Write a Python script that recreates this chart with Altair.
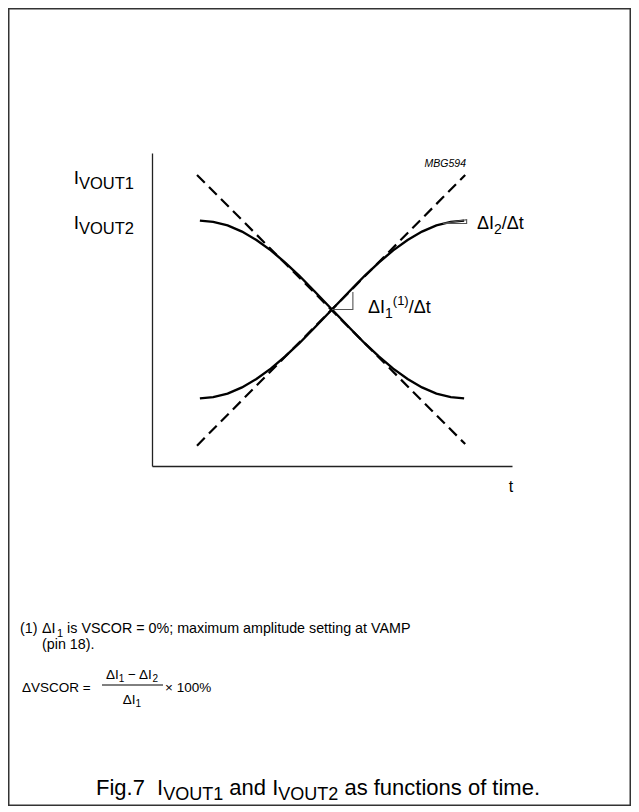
import altair as alt
import pandas as pd

# ---------------- data (arbitrary units 0..100) ----------------
t_curve = [13.3, 17, 21, 25, 29, 33, 37, 41, 45, 50, 55, 59, 63, 67, 71, 75, 79, 83, 86.7]
i_falling = [78.4, 78.0, 76.9, 74.9, 72.2, 68.9, 65.0, 60.7, 56.0, 50.0, 44.0, 39.3,
             35.0, 31.1, 27.8, 25.1, 23.1, 22.0, 21.6]
i_rising = [21.6, 22.0, 23.1, 25.1, 27.8, 31.1, 35.0, 39.3, 44.0, 50.0, 56.0, 60.7,
            65.0, 68.9, 72.2, 74.9, 76.9, 78.0, 78.4]
t_tangent = [12.5, 87.0]
tangent_falling = [93.0, 7.0]
tangent_rising = [6.5, 93.0]
tri_mid_t = [50.0, 55.8, 55.8]
tri_mid_i = [50.0, 50.0, 55.6]
tri_end_t = [80.8, 87.4, 87.4, 80.8]
tri_end_i = [77.5, 77.5, 78.7, 77.5]

# ---------------- layout ----------------
FONT = "Liberation Sans"
PW, PH = 360, 313            # plot area
PAD = {"left": 144, "top": 145, "right": 119, "bottom": 340}
OX, OY = 8 + PAD["left"], 8 + PAD["top"]   # page position of plot origin
CANVAS_W = PAD["left"] + PW + PAD["right"]
CANVAS_H = PAD["top"] + PH + PAD["bottom"]

AW = {' ': 278, '(': 333, ')': 333, '.': 278, '/': 278, '=': 584, '%': 889,
      ';': 278, '−': 584, '×': 584, 'Δ': 668, 'A': 667, 'B': 667, 'C': 722, 'F': 611,
      'G': 778, 'I': 278, 'M': 833, 'O': 778, 'P': 667, 'R': 722, 'S': 667, 'T': 611,
      'U': 722, 'V': 667, 'a': 556, 'c': 500, 'd': 556, 'e': 556, 'f': 278, 'g': 556,
      'i': 222, 'l': 222, 'm': 833, 'n': 556, 'o': 556, 'p': 556, 's': 500, 't': 278,
      'u': 556, 'x': 500, 'y': 500}


def twidth(s, size):
    return sum(AW.get(c, 556) for c in s) * size / 1000.0


one = alt.Data(values=[{"k": 1}])


def txt(s, x, y, size, italic=False, align="left"):
    return alt.Chart(one).mark_text(
        align=align, baseline="alphabetic", font=FONT, fontSize=size,
        fontStyle="italic" if italic else "normal", color="black"
    ).encode(x=alt.value(x - OX), y=alt.value(y - OY), text=alt.value(s))


def run(pieces, x, y, anchor="left"):
    total = sum(twidth(p[0], p[1]) for p in pieces)
    if anchor == "center":
        x -= total / 2
    elif anchor == "right":
        x -= total
    out = []
    for p in pieces:
        s, size = p[0], p[1]
        dy = p[2] if len(p) > 2 else 0
        lead = len(s) - len(s.lstrip(" "))
        core = s.strip(" ")
        trail = len(s) - lead - len(core)
        x += twidth(" " * lead, size)
        out.append(txt(core, x, y + dy, size))
        x += twidth(core, size) + twidth(" " * trail, size)
    return out


xs = alt.Scale(domain=[0, 100], nice=False, zero=False)
ys = alt.Scale(domain=[0, 100], nice=False, zero=False)
ax = alt.Axis(domain=True, ticks=False, labels=False, grid=False, title="",
              domainColor="#222", domainWidth=1.3)

# ---------------- marks ----------------
curves = pd.DataFrame(
    [{"t": t, "i": v, "s": "falling", "k": n} for n, (t, v) in enumerate(zip(t_curve, i_falling))]
    + [{"t": t, "i": v, "s": "rising", "k": n} for n, (t, v) in enumerate(zip(t_curve, i_rising))]
)
tangents = pd.DataFrame(
    [{"t": t, "i": v, "s": "falling", "k": n} for n, (t, v) in enumerate(zip(t_tangent, tangent_falling))]
    + [{"t": t, "i": v, "s": "rising", "k": n} for n, (t, v) in enumerate(zip(t_tangent, tangent_rising))]
)
tris = pd.DataFrame(
    [{"t": t, "i": v, "s": "mid", "k": n} for n, (t, v) in enumerate(zip(tri_mid_t, tri_mid_i))]
    + [{"t": t, "i": v, "s": "end", "k": n} for n, (t, v) in enumerate(zip(tri_end_t, tri_end_i))]
)

enc = dict(x=alt.X("t:Q", scale=xs, axis=ax), y=alt.Y("i:Q", scale=ys, axis=ax),
           detail="s:N", order="k:Q")

curve_layer = alt.Chart(curves).mark_line(color="black", strokeWidth=2.4).encode(**enc)
tangent_layer = alt.Chart(tangents).mark_line(color="black", strokeWidth=2.2,
                                              strokeDash=[11, 6]).encode(**enc)
tri_layer = alt.Chart(tris).mark_line(color="#555", strokeWidth=1.1).encode(**enc)

frame = alt.Chart(one).mark_rect(fill="white", fillOpacity=0, stroke="#333",
                                 strokeWidth=1.5).encode(
    x=alt.value(0.75 - PAD["left"]), x2=alt.value(CANVAS_W - 0.75 - PAD["left"]),
    y=alt.value(0.75 - PAD["top"]), y2=alt.value(CANVAS_H - 0.75 - PAD["top"]))

frac_bar = alt.Chart(one).mark_rule(color="black", strokeWidth=1).encode(
    x=alt.value(102 - OX), x2=alt.value(163 - OX), y=alt.value(685 - OY))

texts = []
texts.append(txt("MBG594", 466, 167, 10.5, italic=True, align="right"))
texts += run([("I", 19), ("VOUT1", 16.5, 5)], 134, 184, "right")
texts += run([("I", 19), ("VOUT2", 16.5, 5)], 134, 229, "right")
texts += run([("ΔI", 18), ("2", 14, 5), ("/Δt", 18)], 477, 229)
texts += run([("ΔI", 18), ("1", 14, 5), ("(1)", 13, -8), ("/Δt", 18)], 368, 313)
texts.append(txt("t", 511, 492, 16, align="center"))
# footnote
texts.append(txt("(1)", 20, 633, 14.3))
texts += run([("ΔI", 14.3)], 42, 633)
texts += run([("1", 11, 4), (" is VSCOR = 0%; maximum amplitude setting at VAMP", 14.3)], 57, 633)
texts.append(txt("(pin 18).", 42, 649, 14.3))
# formula
texts.append(txt("ΔVSCOR  =", 22, 692, 13.5))
texts += run([("ΔI", 13.5), ("1", 10, 3), (" − ΔI", 13.5), ("2", 10, 3)], 132, 679, "center")
texts += run([("ΔI", 13.5), ("1", 10, 3)], 132, 704, "center")
texts.append(txt("× 100%", 165, 692, 13.5))
# caption
texts += run([("Fig.7", 22), ("  I", 22), ("VOUT1", 18, 5), (" and I", 22), ("VOUT2", 18, 5),
              (" as functions of time.", 22)], 318, 795, "center")

chart = alt.layer(frame, tangent_layer, curve_layer, tri_layer, frac_bar, *texts).properties(
    width=PW, height=PH, padding=PAD, autosize=alt.AutoSizeParams(type="none")
).configure_view(strokeWidth=0)

chart.save("out.html", embed_options={"renderer": "svg", "actions": False})
